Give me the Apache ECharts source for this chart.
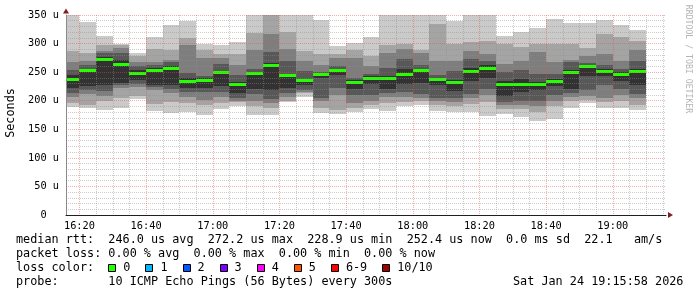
<!DOCTYPE html>
<html><head><meta charset="utf-8">
<script src="https://cdn.jsdelivr.net/npm/echarts@6/dist/echarts.min.js"></script>
<style>html,body{margin:0;padding:0;background:#fff}#c{width:697px;height:297px}</style>
</head><body><div id="c"></div>
<script>
// ---- data (5-minute steps, end time of each step) ----
const times = ['16:20','16:25','16:30','16:35','16:40','16:45','16:50','16:55','17:00','17:05','17:10','17:15','17:20','17:25','17:30','17:35','17:40','17:45','17:50','17:55','18:00','18:05','18:10','18:15','18:20','18:25','18:30','18:35','18:40','18:45','18:50','18:55','19:00','19:05','19:10'];
// sorted ping rtts (us), ping 1 = fastest ... ping 10 = slowest
const p1  = [189,188,184,188,203,182,179,180,175,186,190,175,175,197,207,178,176,181,185,182,190,193,182,180,181,173,176,172,164,168,188,196,187,187,183];
const p2  = [196,192,199,205,208,195,197,196,192,196,197,190,187,200,214,187,184,187,193,196,198,199,192,190,195,198,185,185,181,190,200,202,198,200,192];
const p3  = [206,211,209,222,224,218,214,207,201,207,200,200,196,207,216,200,210,196,200,206,207,205,200,198,205,210,192,193,190,200,206,208,205,210,205];
const p4  = [214,218,217,227,229,224,221,215,215,215,205,211,203,213,218,205,222,210,210,213,215,211.5,205,205,212,220,198,200,200,210,213,219,228,220,212];
const p5  = [223,225,227,231,237,228,227,222,223,225,213,220,219,223,227,240,245,221,230,221,230,231,228,217,235,240,208,215,218,226,221,243,243,234,228];
const p6  = [245,254,277,272,253,257,261,240,239,252,233,251,266,247,238.5,248,254,236,243,243,256,256,240,236,257,262,235,238,233,238,254,262,256,250,256];
const p7  = [254,263,284,283,260,263,267,248,243,265,245,256,286,269,252.5,250,260,240,247,258,273,263,245,252,273,269,250,254,246,247,268,266,263,255,269];
const p8  = [268,269,287,293,268,268,272,298,275,275,263,288,317,290,270,263,275,275,260,284,290,283,270,270,287,282,265,269,285,267,272,278,282,269,288];
const p9  = [287,283,297,297,279,290,289,309,288,281,282,319,352,320,287.5,281,281,288,279,298,299,289,334,299,303,305,300,294,299,299,300,292,317,311,304];
const p10 = [352,338,313,300,283,311,332,340,300,298,302,351,360,351,351,342,295,301,312,351,351,351,351,340,351,351,313,320,328,343,336,336,342,332,324];
const median = [238.5,253,272.2,264.5,248.5,254,258,234.5,235.5,249.5,229.8,247.8,263,244.3,236.2,246.2,253,233,239.8,239,246.4,253.4,237.4,232.6,252.7,257,228.9,230,229.4,235.3,249.5,260,252.8,247,252.4];
const xTickLabels = ['16:20','16:40','17:00','17:20','17:40','18:00','18:20','18:40','19:00'];
const graphStart = '16:15:58';
const legendRows = [
  'median rtt:  246.0 us avg  272.2 us max  228.9 us min  252.4 us now  0.0 ms sd  22.1   am/s',
  'packet loss: 0.00 % avg  0.00 % max  0.00 % min  0.00 % now',
  'loss color:',
  'probe:       10 ICMP Echo Pings (56 Bytes) every 300s'
];
const dateText = 'Sat Jan 24 19:15:58 2026';
const lossLabels = ['0','1','2','3','4','5','6-9','10/10'];
const lossColors = ['#26ff00','#00b8ff','#0059ff','#7e00ff','#ff00ff','#ff5500','#ff0000','#a10000'];

// ---- helpers ----
const toMin = s => { const a = s.split(':').map(Number); return a[0]*60 + a[1] + (a[2]||0)/60; };
const fmt = v => { const h = Math.floor(v/60), m = Math.round(v - h*60); return String(h).padStart(2,'0') + ':' + String(m).padStart(2,'0'); };
const X_MIN = toMin(graphStart), SPAN = 180, X_MAX = X_MIN + SPAN, STEP = 5;
const majorTicks = xTickLabels.map(toMin);
const gridTimes = []; for (let t = majorTicks[0]; t < X_MAX; t += STEP) gridTimes.push(t);
const SHADES = ['#cacaca','#a4a4a4','#7e7e7e','#585858','#323232'];
const MONO = '"DejaVu Sans Mono", monospace';
const data = times.map((t,i) => [toMin(t), p1[i], p2[i], p3[i], p4[i], p5[i], p6[i], p7[i], p8[i], p9[i], p10[i], median[i]]);

const MINOR_C = 'rgba(143,143,143,0.45)';
const MAJOR_C = 'rgba(222,79,79,0.45)';

// dotted vertical grid line at time t, drawn as 1px dots on the pixel grid
function vDots(children, t, api) {
  const x = Math.round(api.coord([t, 0])[0]);
  const top = Math.round(api.coord([t, 350])[1]), bot = Math.round(api.coord([t, 0])[1]);
  const fill = majorTicks.indexOf(t) >= 0 ? MAJOR_C : MINOR_C;
  for (let y = top; y < bot; y += 2) children.push({type:'rect', shape:{x:x, y:y, width:1, height:1}, style:{fill:fill}});
}

function renderSmoke(params, api) {
  const t1 = api.value(0), t0 = t1 - STEP;
  const xa = Math.round(api.coord([t0, 0])[0]);
  const xb = Math.round(api.coord([t1, 0])[0]);
  const children = [];
  for (let i = 0; i < 5; i++) {
    const lo = api.value(1 + i), hi = api.value(10 - i);
    const ya = Math.round(api.coord([t1, hi])[1]);
    const yb = Math.round(api.coord([t1, lo])[1]);
    children.push({type:'rect', shape:{x:xa, y:ya, width:xb-xa, height:yb-ya}, style:{fill:SHADES[i]}});
  }
  const ym = Math.round(api.coord([t1, api.value(11)])[1]);
  children.push({type:'rect', shape:{x:xa, y:ym-1, width:xb-xa, height:3}, style:{fill:lossColors[0]}});
  // vertical time grid (drawn over the smoke, like rrdtool)
  const last = params.dataIndex === times.length - 1;
  gridTimes.forEach(g => { if (g >= t0 && (g < t1 || last)) vDots(children, g, api); });
  return {type:'group', children};
}

// ---- legend graphics ----
const CW = 7.1, LX = 16, rowY = [240.3, 254.3, 268.3, 282.2];
const LFONT = '11.8px ' + MONO;
const graphics = [];
legendRows.forEach((r,i) => graphics.push({type:'text', x:LX, y:rowY[i], style:{text:r, font:LFONT, fill:'#000', align:'left', verticalAlign:'middle'}}));
graphics.push({type:'text', x:LX + 70*CW, y:rowY[3], style:{text:dateText, font:LFONT, fill:'#000', align:'left', verticalAlign:'middle'}});
let bx = LX + 13*CW;
lossLabels.forEach((lab,i) => {
  graphics.push({type:'rect', shape:{x:Math.round(bx)+0.5, y:264.5, width:7, height:7}, style:{fill:lossColors[i], stroke:'#000', lineWidth:1}});
  graphics.push({type:'text', x:bx+15, y:rowY[2], style:{text:lab, font:LFONT, fill:'#000', align:'left', verticalAlign:'middle'}});
  bx += 15 + lab.length*CW + 15;
});
graphics.push({type:'text', x:11, y:113, rotation:Math.PI/2, style:{text:'Seconds', font:LFONT, fill:'#000', align:'center', verticalAlign:'middle'}});
graphics.push({type:'text', x:688, y:59, rotation:-Math.PI/2, style:{text:'RRDTOOL / TOBI OETIKER', font:'8.2px ' + MONO, fill:'#b4b4b4', align:'center', verticalAlign:'middle'}});

const AXFONT = {color:'#000', fontFamily:MONO, fontSize:10.3};

const option = {
  animation:false,
  backgroundColor:'#fff',
  grid:{left:66, top:15, width:600, height:200},
  xAxis:[
    {type:'value', min:X_MIN, max:X_MAX, position:'bottom', z:10,
     axisLine:{show:true, onZero:false, lineStyle:{color:'#1f1f1f', width:1}},
     axisTick:{show:false, customValues:majorTicks},
     axisLabel:Object.assign({show:true, customValues:majorTicks, formatter:fmt, margin:6}, AXFONT),
     splitLine:{show:false}},
    {type:'value', min:X_MIN, max:X_MAX, position:'bottom', z:12,
     axisLine:{show:true, onZero:false, symbol:['none','triangle'], symbolSize:[6,5], symbolOffset:[0,4.5], lineStyle:{color:'#801f1f', width:0}},
     axisTick:{show:false}, axisLabel:{show:false}, splitLine:{show:false}}
  ],
  yAxis:[
    {type:'value', min:0, max:350, interval:50, z:10, position:'left',
     axisLine:{show:true, lineStyle:{color:'#8a8a8a', width:1}},
     axisTick:{show:false},
     axisLabel:Object.assign({margin:7, formatter:v => v === 0 ? '0  ' : v + ' u'}, AXFONT),
     splitLine:{show:true, lineStyle:{color:MAJOR_C, width:1, type:[1,1]}},
     minorTick:{show:false, splitNumber:5},
     minorSplitLine:{show:true, lineStyle:{color:MINOR_C, width:1, type:[1,1]}}},
    {type:'value', min:0, max:350, interval:50, z:12, position:'left',
     axisLine:{show:true, onZero:false, symbol:['none','triangle'], symbolSize:[6,5], symbolOffset:[0,4], lineStyle:{color:'#801f1f', width:0}},
     axisTick:{show:false}, axisLabel:{show:false}, splitLine:{show:false}}
  ],
  graphic:graphics,
  series:[
    {type:'custom', xAxisIndex:0, yAxisIndex:0, clip:true, z:2, renderItem:renderSmoke, data,
     encode:{x:0, y:[1,2,3,4,5,6,7,8,9,10,11]}}
  ]
};
const chart = echarts.init(document.getElementById('c'), null, {renderer:'canvas'});
chart.setOption(option);
</script></body></html>
